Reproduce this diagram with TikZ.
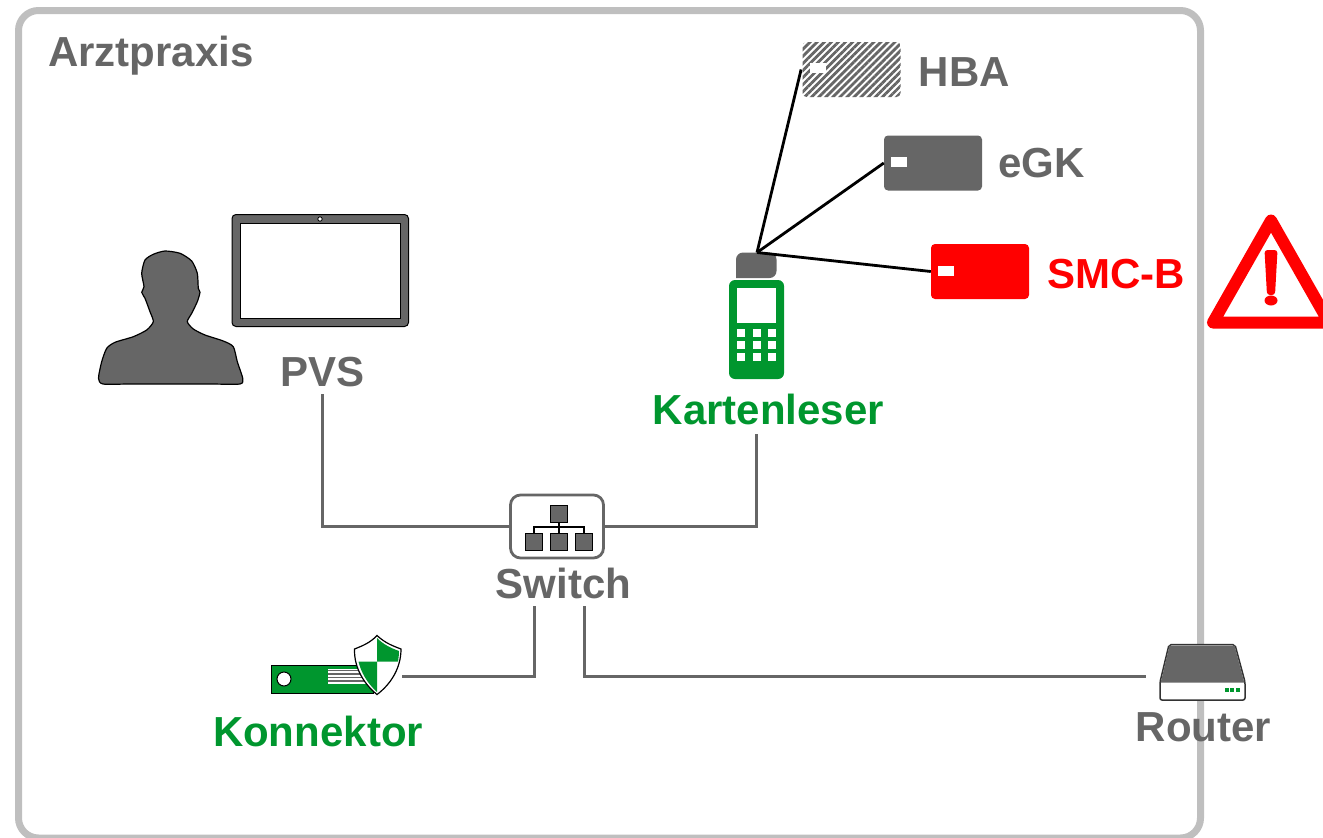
\documentclass[tikz,border=0pt]{standalone}
\usepackage{fontspec}
\setmainfont{Liberation Sans}
\usetikzlibrary{patterns.meta}
\definecolor{txtgray}{HTML}{666666}
\definecolor{framegray}{HTML}{BFBFBF}
\definecolor{okgreen}{HTML}{00962E}
\tikzset{%
  % Specifications for style of nodes:
      labeltxt/.style = {anchor=base, inner xsep=0pt, inner ysep=8pt, text depth=0pt,
                         font=\fontsize{42}{42}\selectfont\bfseries, text=txtgray},
      greentxt/.style = {labeltxt, text=okgreen},
       redtxt/.style = {labeltxt, text=red},
       cardbox/.style = {rectangle, rounded corners=4pt, minimum width=98pt,
                         minimum height=55pt, inner sep=0pt},
       chipbox/.style = {rectangle, fill=white, minimum width=16pt,
                         minimum height=10pt, inner sep=0pt},
       iconbox/.style = {rectangle, inner sep=0pt},
          wire/.style = {draw=txtgray, line width=3pt},
      cardwire/.style = {draw=black, line width=2.8pt},
      netblock/.style = {fill=txtgray, draw=black, line width=1pt},
}
\begin{document}
\begin{tikzpicture}[x=1pt, y=-1pt]
  \useasboundingbox (0,0) rectangle (1323,838);
  % Frame
  \draw[framegray, line width=7pt, rounded corners=20pt] (18.5,10.5) rectangle (1200.5,838);
  \node (praxis) [labeltxt, anchor=base west] at (48,66) {Arztpraxis};

  % User and tablet
  \draw[netblock, fill=txtgray, line width=1.2pt] plot[smooth cycle, tension=0.4] coordinates {
    (165,251) (180,253.3) (191.7,261) (197.3,273.3) (198.3,288.3) (200,292.3) (197.3,301.7)
    (191.7,313.3) (187.3,321.7) (193.3,329) (205,335) (223.3,341) (233.3,346.7) (237.3,361.7)
    (242.7,378.3) (240,384) (210,384) (170,384) (130,384) (103,384) (98.5,378.3) (101.7,361.7)
    (106.7,348.3) (115,342.3) (133.3,336.7) (146.7,330) (153.3,321.7) (150,311.7) (145,298.3)
    (141.7,292.3) (144,286.7) (141.7,273.3) (145,260) (153.3,254.3)};
  \draw[netblock, rounded corners=4pt] (232,214.5) rectangle (408.5,326.5);
  \draw[fill=white, draw=black, line width=1pt] (240,223) rectangle (400.5,318);
  \draw[fill=white, draw=black, line width=0.8pt] (320,219) circle (2.2pt);
  \node (pvs) [labeltxt] at (322.5,386) {PVS};

  % Cards
  \node (hba) [cardbox, pattern={Lines[angle=45, distance=5pt, line width=2.8pt]}, pattern color=txtgray] at (851.5,69.5) {};
  \node (hbachip) [chipbox] at (818,68) {};
  \node (hbatxt) [labeltxt, anchor=base west] at (918.5,86) {HBA};
  \node (egk) [cardbox, fill=txtgray] at (933,163) {};
  \node (egkchip) [chipbox] at (899,162) {};
  \node (egktxt) [labeltxt, anchor=base west] at (998,177) {eGK};
  \node (smcb) [cardbox, fill=red] at (980,271.5) {};
  \node (smcbchip) [chipbox] at (946,271) {};
  \node (smcbtxt) [redtxt, anchor=base west] at (1047,288) {SMC-B};

  % Warning sign
  \draw[red, line width=12pt, line join=round] (1271,220.5) -- (1213,322.5) -- (1329,322.5) -- cycle;
  \fill[red, rounded corners=3pt] (1264.5,250) -- (1277.5,250) -- (1275,295) -- (1267,295) -- cycle;
  \fill[red] (1271,300.5) ellipse (6.5pt and 5pt);

  % Card reader
  \fill[txtgray, rounded corners=7pt] (736,278) -- (736,252.5) -- (776.5,252.5) -- (776.5,278) [sharp corners] -- cycle;
  \coordinate (readertop) at (757,252.5);
  \node (reader) [iconbox, fill=okgreen, rounded corners=6pt, minimum width=55pt, minimum height=99pt] at (756.5,329.5) {};
  \fill[white] (737,288) rectangle (776,323);
  \foreach \kx in {737,752.5,768}
    \foreach \ky in {329,341,353}
      \fill[white] (\kx,\ky) rectangle ++(8,8);
  \node (readertxt) [greentxt] at (768.5,424) {Kartenleser};

  % Switch
  \node (switch) [iconbox, draw=txtgray, fill=white, line width=2.8pt, rounded corners=10pt,
                  minimum width=93pt, minimum height=63pt] at (557,526.5) {};
  \draw[black, line width=2pt] (559,522) -- (559,533) (534,533) -- (534,527) -- (584,527) -- (584,533);
  \foreach \bx/\by in {550.5/505, 525.5/533, 550.5/533, 575.5/533}
    \draw[netblock] (\bx,\by) rectangle ++(17,17);
  \node (switchtxt) [labeltxt] at (563.5,598) {Switch};

  % Konnektor
  \node (konnektor) [iconbox, minimum width=132pt, minimum height=60pt] at (336,676.5) {};
  \draw[fill=okgreen, draw=black, line width=1pt] (271.7,665.7) rectangle (373,693.5);
  \draw[fill=white, draw=black, line width=1pt] (284,679) circle (7pt);
  \fill[white] (328,669) rectangle (367,684);
  \foreach \vy in {670.5,674,677.5,681}
    \draw[txtgray, line width=1.6pt] (328,\vy) -- (367,\vy);
  \draw[fill=white, draw=black, line width=1.2pt] (377,635.5) .. controls (385,643) and (393,646) .. (401,649)
    .. controls (401,668) and (391,684) .. (377,694.5) .. controls (364,684) and (354,668) .. (354.5,649)
    .. controls (362,646) and (370,643) .. (377,635.5) -- cycle;
  \fill[okgreen] (377,638) .. controls (384,645) and (391,648) .. (399,651) .. controls (399,655) and (398.5,658) .. (398,661.7) -- (377,661.7) -- cycle;
  \fill[okgreen] (377,692) .. controls (367,683) and (361,672) .. (358.5,661.7) -- (377,661.7) -- cycle;
  \node (konnektortxt) [greentxt] at (318,746) {Konnektor};

  % Router
  \node (router) [iconbox, minimum width=114pt, minimum height=60pt] at (1203,676.5) {};
  \draw[fill=white, draw=black!80, line width=1.5pt, rounded corners=2pt] (1169,644.7) -- (1235,644.7) -- (1245,682) -- (1245,700) -- (1160,700) -- (1160,682) -- cycle;
  \fill[txtgray] (1169.5,645.5) -- (1234.5,645.5) -- (1244.3,682.5) -- (1160.7,682.5) -- cycle;
  \foreach \ledx in {1225,1230.3,1235.5}
    \fill[okgreen] (\ledx,688) rectangle ++(4,4);
  \node (routertxt) [labeltxt] at (1203.5,741) {Router};

  % Connectors
  \draw[cardwire] (readertop) -- (hba.west);
  \draw[cardwire] (readertop) -- (egk.west);
  \draw[cardwire] (readertop) -- (smcb.west);
  \draw[wire] (pvs.south) |- (switch.west);
  \draw[wire] ([xshift=-12pt,yshift=-2pt]readertxt.south) |- (switch.east);
  \draw[wire] ([xshift=-29pt]switchtxt.south) |- (konnektor.east);
  \draw[wire] ([xshift=21pt]switchtxt.south) |- (router.west);
\end{tikzpicture}
\end{document}
